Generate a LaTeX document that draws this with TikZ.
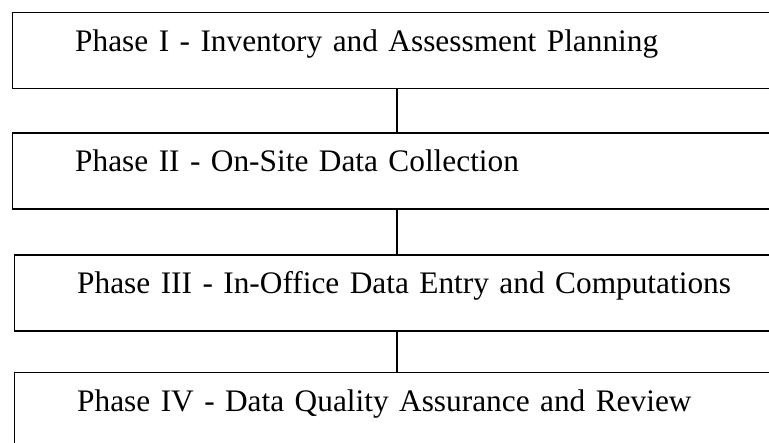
\documentclass[tikz,border=0pt]{standalone}
\usepackage{fontspec}
\setmainfont{Liberation Serif}
\tikzset{
	phase/.style={draw,line width=1.3pt,rectangle,anchor=north west,inner xsep=47pt,inner ysep=0pt,
		text width=600pt,align=left,text height=29pt,text depth=28pt,font=\fontsize{23.5}{27}\selectfont},
	link/.style={line width=1.2pt}
}
\begin{document}
\begin{tikzpicture}[x=0.75pt,y=-0.75pt]
	\useasboundingbox (0,0) rectangle (769,443);
	\clip (0,0) rectangle (769,443); % boxes run off the right edge

	\node[phase] (p1) at (11.7,11.7) {Phase I - Inventory and Assessment Planning}; % first phase
	\node[phase] (p2) at (11.7,132) {Phase II - On-Site Data Collection}; % second phase
	\node[phase] (p3) at (13.7,254) {Phase III - In-Office Data Entry and Computations}; % third phase
	\node[phase] (p4) at (13.7,371.7) {Phase IV - Data Quality Assurance and Review}; % fourth phase

	\coordinate (spine) at (397,0); % x of the links
	\draw[link] (p1.south -| spine) -- (p2.north -| spine);
	\draw[link] (p2.south -| spine) -- (p3.north -| spine);
	\draw[link] (p3.south -| spine) -- (p4.north -| spine);
\end{tikzpicture}
\end{document}
